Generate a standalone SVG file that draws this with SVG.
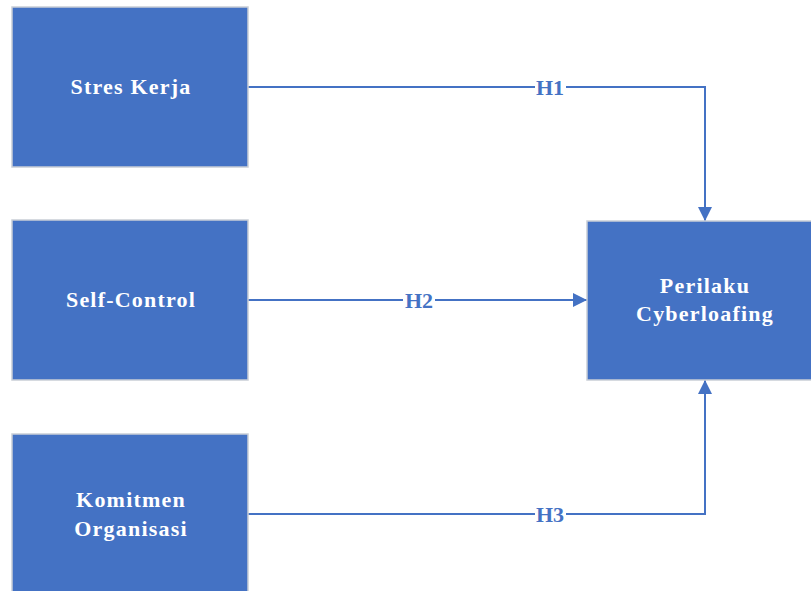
<svg xmlns="http://www.w3.org/2000/svg" width="811" height="591" viewBox="0 0 811 591">
<defs>
<style>
.box{fill:#4472C4;stroke:#C9CED6;stroke-width:1.5}
.t{font-family:"Liberation Serif","Times New Roman",serif;font-weight:bold;font-size:22px;fill:#FFFFFF;text-anchor:middle;letter-spacing:1.2px}
.lbl{font-family:"Liberation Serif","Times New Roman",serif;font-weight:bold;font-size:22px;fill:#4472C4;text-anchor:middle}
.ln{fill:none;stroke:#4472C4;stroke-width:2}
</style>
<marker id="ah" markerWidth="14" markerHeight="14" refX="14" refY="7" orient="auto" markerUnits="userSpaceOnUse" viewBox="0 0 14 14">
<path d="M0,0 L14,7 L0,14 Z" fill="#4472C4"/>
</marker>
</defs>
<rect width="811" height="591" fill="#FFFFFF"/>
<g id="connectors">
<path class="ln" d="M248,87 H705 V221" marker-end="url(#ah)"/>
<path class="ln" d="M248,300 H587" marker-end="url(#ah)"/>
<path class="ln" d="M248,514 H705 V380" marker-end="url(#ah)"/>
<rect x="535" y="76" width="31" height="22" fill="#FFFFFF"/>
<text class="lbl" x="550" y="95">H1</text>
<rect x="403" y="289" width="32" height="22" fill="#FFFFFF"/>
<text class="lbl" x="419" y="308">H2</text>
<rect x="535" y="503" width="31" height="22" fill="#FFFFFF"/>
<text class="lbl" x="550" y="522">H3</text>
</g>
<g id="stres-kerja">
<rect class="box" x="12" y="7" width="236" height="160"/>
<text class="t" x="131" y="94">Stres Kerja</text>
</g>
<g id="self-control">
<rect class="box" x="12" y="220" width="236" height="160"/>
<text class="t" x="131" y="307">Self-Control</text>
</g>
<g id="komitmen-organisasi">
<rect class="box" x="12" y="434" width="236" height="160"/>
<text class="t" x="131" y="507">Komitmen</text>
<text class="t" x="131" y="536">Organisasi</text>
</g>
<g id="perilaku-cyberloafing">
<rect class="box" x="587" y="221" width="226" height="159"/>
<text class="t" x="705" y="293">Perilaku</text>
<text class="t" x="705" y="321">Cyberloafing</text>
</g>
</svg>
